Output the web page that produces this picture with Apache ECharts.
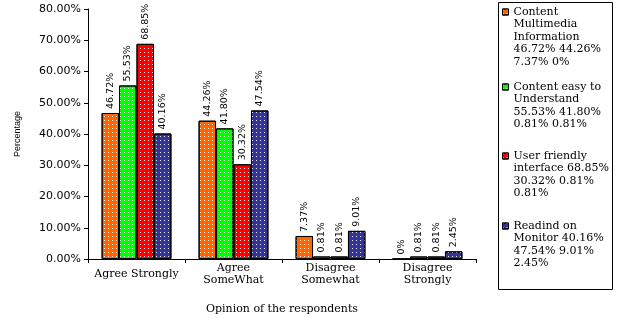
<html>
<head>
    <meta charset="utf-8">
    <title>ECharts</title>
    <script src="https://cdn.jsdelivr.net/npm/echarts@6/dist/echarts.min.js"></script>
    <style>
        body { margin: 0; background: #fff; }
    </style>
</head>
<body>
    <div id="main" style="width: 620px;height:318px;"></div>
    <script type="text/javascript">
        // data
        var categories = ['Agree Strongly', 'Agree\nSomeWhat', 'Disagree\nSomewhat', 'Disagree\nStrongly'];
        var seriesNames = ['Content Multimedia Information', 'Content easy to Understand', 'User friendly interface', 'Readind on Monitor'];
        var multimedia = [46.72, 44.26, 7.37, 0];
        var easyUnderstand = [55.53, 41.80, 0.81, 0.81];
        var userFriendly = [68.85, 30.32, 0.81, 0.81];
        var readMonitor = [40.16, 47.54, 9.01, 2.45];
        var yTicks = [0, 10, 20, 30, 40, 50, 60, 70, 80];
        var legendLines = [
            ['Content', 'Multimedia', 'Information', '46.72% 44.26%', '7.37% 0%'],
            ['Content easy to', 'Understand', '55.53% 41.80%', '0.81% 0.81%'],
            ['User friendly', 'interface 68.85%', '30.32% 0.81%', '0.81%'],
            ['Readind on', 'Monitor 40.16%', '47.54% 9.01%', '2.45%']
        ];

        var colors = ['#FF6600', '#00FF00', '#FF0000', '#333399'];
        var allData = [multimedia, easyUnderstand, userFriendly, readMonitor];
        var firstLineY = [12, 87, 156, 226];
        var LH = 12.5;

        var myChart = echarts.init(document.getElementById('main'));

        function pct(v) {
            return v === 0 ? '0%' : v.toFixed(2) + '%';
        }

        var series = [];
        var legends = [];
        for (var i = 0; i < seriesNames.length; i++) {
            series.push({
                name: seriesNames[i],
                type: 'bar',
                data: allData[i],
                barGap: '0%',
                barCategoryGap: '28%',
                itemStyle: {
                    color: colors[i],
                    borderColor: '#000',
                    borderWidth: 1,
                    decal: {
                        symbol: 'rect',
                        symbolSize: 1,
                        dashArrayX: [1, 3],
                        dashArrayY: [1, 3],
                        color: 'rgba(255,255,255,0.9)',
                        rotation: 0
                    }
                },
                label: {
                    show: true,
                    position: 'top',
                    rotate: 90,
                    align: 'left',
                    verticalAlign: 'middle',
                    distance: 4,
                    fontFamily: 'DejaVu Sans',
                    fontSize: 9.5,
                    color: '#000',
                    formatter: function (p) { return pct(p.value); }
                }
            });
            var n = legendLines[i].length;
            var H = (2 * n - 1) * LH;
            legends.push({
                data: [seriesNames[i]],
                left: 502,
                top: firstLineY[i] - H / 2,
                padding: 0,
                icon: 'rect',
                itemWidth: 6,
                itemHeight: 6,
                itemStyle: { borderColor: '#000', borderWidth: 1 },
                // blank lines on top so the icon sits beside the first line
                formatter: (function (lines) {
                    var pad = [];
                    for (var k = 1; k < lines.length; k++) pad.push(' ');
                    return function () { return pad.concat(lines).join('\n'); };
                })(legendLines[i]),
                textStyle: {
                    fontFamily: 'DejaVu Serif',
                    fontSize: 11,
                    lineHeight: LH,
                    color: '#000'
                },
                selectedMode: false
            });
        }

        var option = {
            animation: false,
            backgroundColor: '#fff',
            grid: { left: 88, right: 144, top: 9, bottom: 59, outerBoundsMode: 'none' },
            legend: legends,
            graphic: [{
                type: 'rect',
                shape: { x: 498.5, y: 2.5, width: 114, height: 287 },
                style: { fill: 'none', stroke: '#000', lineWidth: 1 }
            }],
            xAxis: {
                type: 'category',
                data: categories,
                name: 'Opinion of the respondents',
                nameLocation: 'middle',
                nameGap: 45,
                nameTextStyle: { fontFamily: 'DejaVu Serif', fontSize: 11, color: '#000' },
                axisLine: { lineStyle: { color: '#000', width: 1 } },
                axisTick: { show: true, length: 4, lineStyle: { color: '#000' } },
                axisLabel: {
                    interval: 0,
                    hideOverlap: false,
                    fontFamily: 'DejaVu Serif',
                    fontSize: 11,
                    color: '#000',
                    lineHeight: 12,
                    verticalAlign: 'middle',
                    margin: 15
                }
            },
            yAxis: {
                type: 'value',
                min: yTicks[0],
                max: yTicks[yTicks.length - 1],
                interval: 10,
                name: 'Percentage',
                nameLocation: 'middle',
                nameGap: 66,
                nameRotate: 90,
                nameTextStyle: { fontFamily: 'Liberation Sans', fontSize: 9, color: '#000' },
                axisLine: { show: true, lineStyle: { color: '#000', width: 1 } },
                axisTick: { show: true, length: 4, lineStyle: { color: '#000' } },
                splitLine: { show: false },
                axisLabel: {
                    fontFamily: 'DejaVu Sans',
                    fontSize: 11,
                    color: '#000',
                    margin: 7,
                    formatter: function (v) { return v.toFixed(2) + '%'; }
                }
            },
            series: series
        };

        myChart.setOption(option);
    </script>
</body>
</html>
